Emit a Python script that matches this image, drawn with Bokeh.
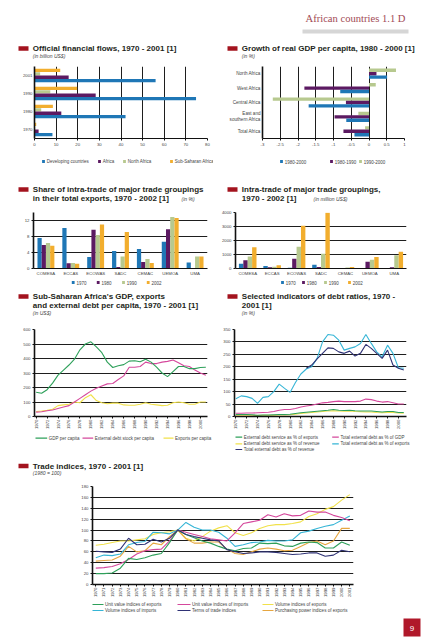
import math
from bokeh.plotting import figure
from bokeh.layouts import column, row
from bokeh.models import Range1d, FactorRange, ColumnDataSource, FixedTicker, SingleIntervalTicker
from bokeh.transform import dodge
from bokeh.core.properties import value
from bokeh.embed import file_html
from bokeh.resources import INLINE

NAN = float("nan")

# ---------------- data ----------------
header_text = "African countries 1.1 D"
page_number = "9"

# Official financial flows (billion US$)
flow_years = ["1970", "1980", "1990", "2001"]
flow_developing = [8.3, 42.1, 74.7, 56.0]
flow_africa = [1.9, 12.4, 28.3, 15.8]
flow_north_africa = [0.3, 3.1, 7.3, 2.6]
flow_ssa = [0.8, 8.5, 19.7, 11.9]
flow_labels = ["Developing countries", "Africa", "North Africa", "Sub-Saharan Africa"]
flow_ticks = [0, 10, 20, 30, 40, 50, 60, 70, 80]

# Growth of real GDP per capita (%)
gdp_regions = ["Total Africa", "East and\nsouthern Africa", "Central Africa", "West Africa", "North Africa"]
gdp_1980_2000 = [-0.41, -0.64, -1.70, -0.81, 0.51]
gdp_1980_1990 = [-0.72, -0.97, -0.65, -1.82, 0.21]
gdp_1990_2000 = [-0.11, -0.30, -2.71, 0.19, 0.76]
gdp_labels = ["1980-2000", "1980-1990", "1990-2000"]
gdp_ticks = [-3, -2.5, -2, -1.5, -1, -0.5, 0, 0.5, 1]
gdp_tick_labels = ["-3", "-2.5", "-2", "-1.5", "-1", "-0.5", "0", "0.5", "1"]

# Trade groupings
groups = ["COMESA", "ECCAS", "ECOWAS", "SADC", "CEMAC", "UEMOA", "UMA"]
period_labels = ["1970", "1980", "1990", "2002"]
share_1970 = [7.6, 10.1, 2.9, 4.4, 4.9, 6.7, 1.5]
share_1980 = [5.9, 1.3, 9.7, 0.4, 1.6, 9.8, 0.1]
share_1990 = [6.4, 1.4, 8.4, 3.0, 2.4, 12.9, 3.0]
share_2002 = [5.7, 1.2, 11.0, 9.1, 1.4, 12.6, 3.0]
share_ticks = [0, 4, 8, 12]
intra_1970 = [340, 180, 50, 270, 10, 20, 20]
intra_1980 = [585, 90, 690, 100, 20, 480, 90]
intra_1990 = [850, 130, 1560, 1050, 80, 620, 950]
intra_2002 = [1510, 230, 3050, 3980, 100, 830, 1200]
intra_ticks = [0, 1000, 2000, 3000, 4000]

# Annual series 1970-2001
years = [1970, 1971, 1972, 1973, 1974, 1975, 1976, 1977, 1978, 1979,
         1980, 1981, 1982, 1983, 1984, 1985, 1986, 1987, 1988, 1989,
         1990, 1991, 1992, 1993, 1994, 1995, 1996, 1997, 1998, 1999,
         2000, 2001]

ssa_gdp = [167, 160, 185, 230, 285, 320, 355, 395, 460, 500,
           515, 480, 440, 375, 338, 350, 358, 382, 385, 378,
           395, 375, 340, 300, 275, 310, 345, 345, 330, 330,
           338, 340]
ssa_debt = [30, 33, 40, 45, 55, 65, 75, 100, 125, 150,
            175, 195, 210, 225, 228, 255, 280, 340, 340, 345,
            375, 365, 365, 375, 380, 390, 370, 350, 345, 320,
            300, 285]
ssa_exports = [35, 38, 42, 50, 75, 80, 85, 100, 95, 130,
               150, 110, 95, 88, 92, 92, 80, 78, 78, 85,
               95, 85, 80, 75, 78, 95, 100, 95, 85, 85,
               100, 100]
ssa_labels = ["GDP per capita", "External debt stock per capita", "Exports per capita"]
ssa_ticks = [0, 100, 200, 300, 400, 500, 600]

debt_service_exports = [8, 8, 8, 7, 5, 6, 6, 7, 8, 8,
                        9, 12, 15, 17, 19, 21, 23, 25, 28, 25,
                        24, 25, 23, 22, 22, 22, 20, 18, 20, 20,
                        16, 16]
debt_service_revenue = [5, 5, 5, 5, 4, 5, 5, 5, 6, 6,
                        7, 9, 12, 14, 16, 18, 20, 22, 23, 22,
                        21, 22, 20, 19, 18, 18, 16, 15, 16, 16,
                        14, 13]
debt_gdp = [13, 13, 14, 14, 15, 16, 17, 20, 25, 28,
            28, 32, 38, 42, 45, 50, 55, 57, 60, 62,
            60, 60, 60, 62, 70, 68, 62, 58, 60, 55,
            50, 50]
debt_exports = [71, 83, 80, 73, 53, 77, 80, 100, 130, 113,
                97, 137, 171, 191, 200, 234, 300, 330, 327, 307,
                267, 274, 280, 294, 330, 294, 260, 240, 287, 254,
                196, 194]
debt_revenue = [NAN, NAN, NAN, NAN, NAN, NAN, NAN, NAN, NAN, NAN,
                NAN, NAN, NAN, 194, 207, 232, 254, 276, 274, 260,
                254, 263, 243, 254, 290, 274, 254, 234, 267, 207,
                194, 187]
debt_labels = ["External debt service as % of exports", "Total external debt as % of GDP",
               "External debt service as % of revenue", "Total external debt as % of exports",
               "Total external debt as % of revenue"]
debt_ticks = [0, 50, 100, 150, 200, 250, 300, 350]

uv_exports = [20, 20, 21, 30, 48, 46, 49, 54, 57, 77,
              100, 92, 86, 80, 76, 70, 65, 62, 66, 67,
              76, 75, 76, 71, 70, 76, 78, 77, 67, 67,
              78, 72]
uv_imports = [30, 31, 33, 38, 46, 56, 62, 64, 65, 80,
              100, 96, 92, 88, 84, 82, 80, 95, 112, 115,
              118, 128, 124, 130, 126, 127, 135, 133, 133, 127,
              123, 117]
vol_exports = [72, 74, 77, 80, 80, 82, 84, 92, 95, 97,
               100, 85, 80, 88, 98, 104, 108, 95, 90, 95,
               103, 108, 110, 110, 112, 115, 125, 130, 138, 143,
               155, 165]
vol_imports = [49, 54, 53, 56, 73, 77, 79, 96, 95, 93,
               100, 114, 105, 100, 100, 96, 85, 70, 73, 77,
               78, 81, 80, 80, 82, 95, 98, 103, 107, 110,
               118, 126]
terms_of_trade = [61, 60, 59, 65, 85, 73, 74, 83, 78, 85,
                  100, 92, 88, 85, 82, 80, 64, 60, 57, 58,
                  60, 60, 59, 57, 55, 56, 58, 58, 52, 54,
                  63, 60]
purchasing_power = [43, 44, 45, 52, 70, 60, 62, 76, 73, 88,
                    100, 84, 76, 76, 78, 78, 65, 57, 55, 60,
                    65, 67, 65, 62, 63, 70, 77, 80, 73, 80,
                    103, 103]
trade_labels = ["Unit value indices of exports", "Unit value indices of imports", "Volume indices of exports",
                "Volume indices of imports", "Terms of trade indices", "Purchasing power indices of exports"]
trade_ticks = [0, 20, 40, 60, 80, 100, 120, 140, 160, 180]

titles = {
    "t1": "Official financial flows, 1970 - 2001 [1]", "s1": "(in billion US$)",
    "t2": "Growth of real GDP per capita, 1980 - 2000 [1]", "s2": "(in %)",
    "t3a": "Share of intra-trade of major trade groupings", "t3b": "in their total exports, 1970 - 2002 [1]", "s3": "(in %)",
    "t4a": "Intra-trade of major trade groupings,", "t4b": "1970 - 2002 [1]", "s4": "(in million US$)",
    "t5a": "Sub-Saharan Africa's GDP, exports", "t5b": "and external debt per capita, 1970 - 2001 [1]", "s5": "(in US$)",
    "t6a": "Selected indicators of debt ratios, 1970 -", "t6b": "2001 [1]", "s6": "(in %)",
    "t7": "Trade indices, 1970 - 2001 [1]", "s7": "(1980 = 100)",
}

# ---------------- styles ----------------
RED = "#a3131e"
BLUE = "#1f77b6"
PURPLE = "#5c1a62"
SAGE = "#b7c98f"
ORANGE = "#f2ae2e"
L_GREEN = "#2ea05a"
L_PINK = "#d5489c"
L_YELLOW = "#f1e14a"
L_CYAN = "#36b5d6"
L_NAVY = "#2f3275"
L_GOLD = "#e6a640"
TXT = "#231f20"
SANS = "Liberation Sans"
TITLE_SIZE = 8.0
SUB_SIZE = 5.0
LEG_SIZE = 4.5
TICK_SIZE = "4.3px"
GRID = "#1e1e1e"
HALF = 213
FULL = 426


def block(w, h):
    p = figure(width=w, height=h, x_range=Range1d(0, w), y_range=Range1d(h, 0),
               x_axis_location=None, y_axis_location=None, toolbar_location=None, tools="",
               output_backend="svg", min_border=0, title=None)
    p.xgrid.visible = False
    p.ygrid.visible = False
    p.outline_line_color = None
    return p


def txt(p, x, y, s, size, color=TXT, style="normal", align="left", font=SANS):
    p.text(x=[x], y=[y], text=[s], text_font=value(font), text_font_size=f"{size}px",
           text_font_style=style, text_color=color, text_align=align, text_baseline="middle")


def red_mark(p, x, y):
    p.quad(left=[x], right=[x + 10], top=[y - 2.3], bottom=[y + 2.3], color=RED, line_color=None)


def sq_legend(p, xs, y, labels, colors):
    for x, lab, col in zip(xs, labels, colors):
        p.quad(left=[x - 1.4], right=[x + 1.4], top=[y - 1.4], bottom=[y + 1.4], color=col, line_color=None)
        txt(p, x + 3.2, y, lab, LEG_SIZE, color="#444")


def line_legend(p, x0, x1, y, label, color):
    p.segment(x0=[x0], y0=[y], x1=[x1], y1=[y], line_color=color, line_width=1.2)
    txt(p, x1 + 1.6, y, label, LEG_SIZE, color="#444")


def chart(w, h, x_range, y_range, left, right, top, bottom):
    p = figure(width=w, height=h, x_range=x_range, y_range=y_range, toolbar_location=None, tools="",
               output_backend="svg", title=None,
               min_border_left=left, min_border_right=right, min_border_top=top, min_border_bottom=bottom)
    p.outline_line_color = None
    p.xgrid.grid_line_color = None
    p.ygrid.grid_line_color = None
    for ax in p.axis:
        ax.major_label_text_font = SANS
        ax.major_label_text_font_size = TICK_SIZE
        ax.major_label_text_color = "#444"
        ax.axis_line_color = "#111"
        ax.axis_line_width = 1
        ax.major_tick_line_color = "#111"
        ax.minor_tick_line_color = None
        ax.major_tick_out = 2
        ax.major_tick_in = 0
        ax.major_label_standoff = 2
    p.yaxis.axis_line_width = 1.6
    return p


# ---------------- header ----------------
header = block(FULL, 40)
txt(header, 405, 18, header_text, 10.6, color="#a24a55", align="right", font="Liberation Serif")
header.quad(left=[302], right=[408], top=[29], bottom=[33], color="#d6d6d6", line_color=None)

# ---------------- titles 1/2 ----------------
t1 = block(HALF, 24)
red_mark(t1, 18, 8)
txt(t1, 32.3, 8, titles["t1"], TITLE_SIZE, style="bold")
txt(t1, 32.3, 15.8, titles["s1"], SUB_SIZE, style="italic", color="#444")
t2 = block(HALF, 24)
red_mark(t2, 14, 8)
txt(t2, 28.3, 8, titles["t2"], TITLE_SIZE, style="bold")
txt(t2, 28.3, 15.8, titles["s2"], SUB_SIZE, style="italic", color="#444")

# ---------------- chart 1: financial flows ----------------
c1 = chart(HALF, 88, Range1d(0, 80), FactorRange(*flow_years), 34, 6, 2, 14)
src1 = ColumnDataSource(dict(year=flow_years, dev=flow_developing, afr=flow_africa,
                             na=flow_north_africa, ssa=flow_ssa))
for col, off, color in [("ssa", 0.285, ORANGE), ("na", 0.095, SAGE), ("afr", -0.095, PURPLE), ("dev", -0.285, BLUE)]:
    c1.hbar(y=dodge("year", off, range=c1.y_range), right=col, left=0, height=0.185, source=src1,
            fill_color=color, line_color=None)
c1.xaxis.ticker = FixedTicker(ticks=flow_ticks)
c1.xgrid.ticker = FixedTicker(ticks=flow_ticks)
c1.xgrid.grid_line_color = GRID
c1.yaxis.major_tick_out = 0

# ---------------- chart 2: GDP growth ----------------
c2 = chart(HALF, 88, Range1d(-3, 1), FactorRange(*gdp_regions), 49, 22, 2, 14)
src2 = ColumnDataSource(dict(reg=gdp_regions, a=gdp_1980_2000, b=gdp_1980_1990, c=gdp_1990_2000))
for col, off, color in [("c", 0.235, SAGE), ("b", 0.0, PURPLE), ("a", -0.235, BLUE)]:
    c2.hbar(y=dodge("reg", off, range=c2.y_range), right=col, left=0, height=0.235, source=src2,
            fill_color=color, line_color=None)
c2.xaxis.ticker = FixedTicker(ticks=gdp_ticks)
c2.xgrid.ticker = FixedTicker(ticks=gdp_ticks)
c2.xaxis.major_label_overrides = {float(t): l for t, l in zip(gdp_ticks, gdp_tick_labels)}
c2.xgrid.grid_line_color = GRID
c2.yaxis.major_tick_out = 0
c2.yaxis.major_label_text_font_size = "4.6px"

# ---------------- legends 1/2 ----------------
l1 = block(HALF, 18)
sq_legend(l1, [43, 99, 124, 171], 9, flow_labels, [BLUE, PURPLE, SAGE, ORANGE])
l2 = block(HALF, 18)
sq_legend(l2, [68, 118, 147], 9, gdp_labels, [BLUE, PURPLE, SAGE])

# ---------------- titles 3/4 ----------------
t3 = block(HALF, 38)
red_mark(t3, 18, 19)
txt(t3, 32.3, 19, titles["t3a"], TITLE_SIZE, style="bold")
txt(t3, 32.3, 28, titles["t3b"], TITLE_SIZE, style="bold")
txt(t3, 181, 28.5, titles["s3"], SUB_SIZE, style="italic", color="#444")
t4 = block(HALF, 38)
red_mark(t4, 14, 19)
txt(t4, 28.3, 19, titles["t4a"], TITLE_SIZE, style="bold")
txt(t4, 28.3, 28, titles["t4b"], TITLE_SIZE, style="bold")
txt(t4, 100, 28.5, titles["s4"], SUB_SIZE, style="italic", color="#444")

# ---------------- chart 3: share of intra-trade ----------------
c3 = chart(HALF, 70, FactorRange(*groups), Range1d(0, 14), 33, 6, 4, 10)
src3 = ColumnDataSource(dict(g=groups, a=share_1970, b=share_1980, c=share_1990, d=share_2002))
for col, off, color in [("a", -0.255, BLUE), ("b", -0.085, PURPLE), ("c", 0.085, SAGE), ("d", 0.255, ORANGE)]:
    c3.vbar(x=dodge("g", off, range=c3.x_range), top=col, bottom=0, width=0.17, source=src3,
            fill_color=color, line_color=None)
c3.yaxis.ticker = FixedTicker(ticks=share_ticks)
c3.ygrid.ticker = FixedTicker(ticks=share_ticks)
c3.ygrid.grid_line_color = GRID
c3.xaxis.major_tick_out = 0

# ---------------- chart 4: intra-trade ----------------
c4 = chart(HALF, 70, FactorRange(*groups), Range1d(0, 4000), 22, 20, 4, 10)
src4 = ColumnDataSource(dict(g=groups, a=intra_1970, b=intra_1980, c=intra_1990, d=intra_2002))
for col, off, color in [("a", -0.27, BLUE), ("b", -0.09, PURPLE), ("c", 0.09, SAGE), ("d", 0.27, ORANGE)]:
    c4.vbar(x=dodge("g", off, range=c4.x_range), top=col, bottom=0, width=0.18, source=src4,
            fill_color=color, line_color=None)
c4.yaxis.ticker = FixedTicker(ticks=intra_ticks)
c4.ygrid.ticker = FixedTicker(ticks=intra_ticks)
c4.ygrid.grid_line_color = GRID
c4.xaxis.major_tick_out = 0

# ---------------- legends 3/4 ----------------
l3 = block(HALF, 12)
sq_legend(l3, [72.7, 97.7, 123, 147.7], 4, period_labels, [BLUE, PURPLE, SAGE, ORANGE])
l4 = block(HALF, 12)
sq_legend(l4, [69, 90, 112, 136], 4, period_labels, [BLUE, PURPLE, SAGE, ORANGE])

# ---------------- titles 5/6 ----------------
t5 = block(HALF, 35)
red_mark(t5, 18, 6)
txt(t5, 32.3, 6, titles["t5a"], TITLE_SIZE, style="bold")
txt(t5, 32.3, 14.5, titles["t5b"], TITLE_SIZE, style="bold")
txt(t5, 32.3, 22.5, titles["s5"], SUB_SIZE, style="italic", color="#444")
t6 = block(HALF, 35)
red_mark(t6, 14, 6)
txt(t6, 28.3, 6, titles["t6a"], TITLE_SIZE, style="bold")
txt(t6, 28.3, 14.5, titles["t6b"], TITLE_SIZE, style="bold")
txt(t6, 28.3, 22.5, titles["s6"], SUB_SIZE, style="italic", color="#444")

# ---------------- chart 5: SSA per capita ----------------
c5 = chart(HALF, 107, Range1d(1969.7, 2001.3), Range1d(0, 600), 34, 6, 4, 15)
src5 = ColumnDataSource(dict(yr=years, gdp=ssa_gdp, debt=ssa_debt, exp=ssa_exports))
c5.line("yr", "exp", source=src5, line_color=L_YELLOW, line_width=1.1)
c5.line("yr", "debt", source=src5, line_color=L_PINK, line_width=1.1)
c5.line("yr", "gdp", source=src5, line_color=L_GREEN, line_width=1.1)
c5.yaxis.ticker = FixedTicker(ticks=ssa_ticks)
c5.ygrid.ticker = FixedTicker(ticks=ssa_ticks)
c5.ygrid.grid_line_color = GRID
c5.xaxis.ticker = SingleIntervalTicker(interval=2, num_minor_ticks=0)
c5.xaxis.major_label_orientation = math.pi / 2
c5.xaxis.axis_line_width = 1.6
c5.xaxis.major_label_standoff = 1

# ---------------- chart 6: debt ratios ----------------
c6 = chart(HALF, 107, Range1d(1969.75, 2001.5), Range1d(0, 350), 21, 20, 4, 15)
src6 = ColumnDataSource(dict(yr=years, se=debt_service_exports, sr=debt_service_revenue,
                             gdp=debt_gdp, ex=debt_exports, rev=debt_revenue))
c6.line("yr", "sr", source=src6, line_color=L_YELLOW, line_width=1.1)
c6.line("yr", "se", source=src6, line_color=L_GREEN, line_width=1.1)
c6.line("yr", "gdp", source=src6, line_color=L_PINK, line_width=1.1)
c6.line("yr", "ex", source=src6, line_color=L_CYAN, line_width=1.1)
c6.line("yr", "rev", source=src6, line_color=L_NAVY, line_width=1.1)
c6.yaxis.ticker = FixedTicker(ticks=debt_ticks)
c6.ygrid.ticker = FixedTicker(ticks=debt_ticks)
c6.ygrid.grid_line_color = GRID
c6.xaxis.ticker = SingleIntervalTicker(interval=2, num_minor_ticks=0)
c6.xaxis.major_label_orientation = math.pi / 2
c6.xaxis.axis_line_width = 1.6
c6.xaxis.major_label_standoff = 1

# ---------------- legends 5/6 ----------------
l5 = block(HALF, 26)
line_legend(l5, 35, 46.7, 5.7, ssa_labels[0], L_GREEN)
line_legend(l5, 82, 92.7, 5.7, ssa_labels[1], L_PINK)
line_legend(l5, 163, 173, 5.7, ssa_labels[2], L_YELLOW)
l6 = block(HALF, 26)
line_legend(l6, 22, 28.7, 4.7, debt_labels[0], L_GREEN)
line_legend(l6, 118.7, 125.3, 4.7, debt_labels[1], L_PINK)
line_legend(l6, 22, 28.7, 11.3, debt_labels[2], L_YELLOW)
line_legend(l6, 118.7, 125.3, 11.3, debt_labels[3], L_CYAN)
line_legend(l6, 22, 28.7, 17, debt_labels[4], L_NAVY)

# ---------------- title 7 ----------------
t7 = block(FULL, 26)
red_mark(t7, 18, 7.5)
txt(t7, 32.3, 7.5, titles["t7"], TITLE_SIZE, style="bold")
txt(t7, 32.3, 14, titles["s7"], SUB_SIZE, style="italic", color="#444")

# ---------------- chart 7: trade indices ----------------
c7 = chart(FULL, 116, Range1d(1969.6, 2001.45), Range1d(0, 180), 92, 73, 2, 13)
src7 = ColumnDataSource(dict(yr=years, uve=uv_exports, uvi=uv_imports, ve=vol_exports,
                             vi=vol_imports, tot=terms_of_trade, pp=purchasing_power))
for col, color in [("ve", L_YELLOW), ("pp", L_GOLD), ("vi", L_CYAN), ("uvi", L_PINK),
                   ("uve", L_GREEN), ("tot", L_NAVY)]:
    c7.line("yr", col, source=src7, line_color=color, line_width=1.1)
c7.yaxis.ticker = FixedTicker(ticks=trade_ticks)
c7.ygrid.ticker = FixedTicker(ticks=trade_ticks)
c7.ygrid.grid_line_color = GRID
c7.xaxis.ticker = SingleIntervalTicker(interval=1, num_minor_ticks=0)
c7.xaxis.major_label_orientation = math.pi / 2
c7.xaxis.axis_line_width = 1.6
c7.xaxis.major_label_standoff = 1

# ---------------- legend 7 ----------------
l7 = block(FULL, 16)
trade_colors = [L_GREEN, L_PINK, L_YELLOW, L_CYAN, L_NAVY, L_GOLD]
col_x = [(92, 103), (177, 190), (262, 273)]
for i, (lab, color) in enumerate(zip(trade_labels, trade_colors)):
    x0, x1 = col_x[i % 3]
    line_legend(l7, x0, x1, 4 if i < 3 else 10, lab, color)

# ---------------- footer ----------------
footer = block(FULL, 22)
footer.quad(left=[403], right=[420], top=[2], bottom=[20], color="#b0182a", line_color=None)
txt(footer, 411.5, 11.5, page_number, 8, color="white", align="center")

layout = column(
    row(header),
    row(t1, t2),
    row(c1, c2),
    row(l1, l2),
    row(t3, t4),
    row(c3, c4),
    row(l3, l4),
    row(t5, t6),
    row(c5, c6),
    row(l5, l6),
    row(t7),
    row(c7),
    row(l7),
    row(footer),
)

open("out.html", "w").write(file_html(layout, INLINE))
